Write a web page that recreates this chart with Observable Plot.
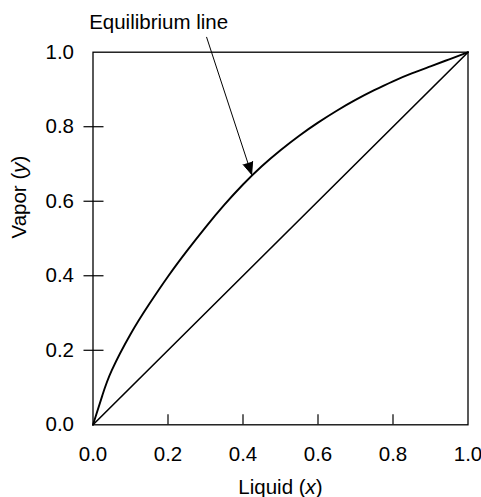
<!DOCTYPE html>
<html><head><meta charset="utf-8">
<script src="https://cdn.jsdelivr.net/npm/d3@7"></script>
<script src="https://cdn.jsdelivr.net/npm/@observablehq/plot@0.6"></script>
<style>body{margin:0;background:#fff}</style>
</head><body><div id="chart"></div>
<script>
// Equilibrium curve values
const liquidX = [0, 0.025, 0.05, 0.1, 0.15, 0.2, 0.25, 0.3, 0.35, 0.4, 0.45, 0.5, 0.55, 0.6, 0.65, 0.7, 0.75, 0.8, 0.85, 0.9, 0.95, 1.0];
const vaporY  = [0, 0.079, 0.146, 0.243, 0.324, 0.398, 0.466, 0.530, 0.590, 0.645, 0.694, 0.737, 0.776, 0.811, 0.843, 0.872, 0.898, 0.922, 0.943, 0.962, 0.981, 1.0];
// 45° diagonal (y = x)
const diagonalX = [0, 1];
const diagonalY = [0, 1];
// ticks
const tickLabels = [0, 0.2, 0.4, 0.6, 0.8, 1.0];
const innerTicks = [0.2, 0.4, 0.6, 0.8];
// texts
const xLabel = "Liquid (x)";
const yLabel = "Vapor (y)";
const annotationLabel = "Equilibrium line";
const annotationPos = [0.175, 1.08];
const arrowFrom = [0.303, 1.04];
const arrowTo = [0.423, 0.672];

const curve = liquidX.map((x, i) => ({x, y: vaporY[i]}));
const diag = diagonalX.map((x, i) => ({x, y: diagonalY[i]}));
const fmt = d3.format(".1f");
const FS = 20.5;

const svg = Plot.plot({
  width: 481,
  height: 497,
  marginLeft: 92.5,
  marginRight: 13.5,
  marginTop: 51.7,
  marginBottom: 72.7,
  style: {fontFamily: "'Liberation Sans', Arial, Helvetica, sans-serif", fontSize: FS + "px", background: "white", color: "black", overflow: "visible"},
  x: {domain: [0, 1], label: null},
  y: {domain: [0, 1], label: null},
  marks: [
    Plot.frame({stroke: "black", strokeWidth: 1.3}),
    // y ticks crossing the left edge
    Plot.axisY(innerTicks, {tickSize: 20, dx: 11, fill: "none", strokeWidth: 1.2, label: null}),
    Plot.axisY(tickLabels, {tickSize: 0, tickPadding: 19, fontSize: FS, tickFormat: fmt, label: null}),
    // x ticks inside the bottom edge
    Plot.axisX(innerTicks, {tickSize: 10, dy: -10, fill: "none", strokeWidth: 1.2, label: null}),
    Plot.axisX(tickLabels, {tickSize: 0, tickPadding: 22, fontSize: FS, tickFormat: fmt, label: null}),
    Plot.line(diag, {x: "x", y: "y", stroke: "black", strokeWidth: 1.6}),
    Plot.line(curve, {x: "x", y: "y", stroke: "black", strokeWidth: 1.9, curve: "natural"}),
    Plot.text([xLabel], {text: d => d, frameAnchor: "bottom", dy: 63, fontSize: FS, lineAnchor: "middle", fill: "black"}),
    Plot.text([yLabel], {text: d => d, frameAnchor: "left", rotate: -90, dx: -73.5, fontSize: FS, lineAnchor: "middle", fill: "black"}),
    Plot.text([annotationLabel], {text: d => d, x: () => annotationPos[0], y: () => annotationPos[1], fontSize: FS, lineAnchor: "middle", fill: "black"}),
    Plot.arrow([0], {x1: () => arrowFrom[0], y1: () => arrowFrom[1], x2: () => arrowTo[0], y2: () => arrowTo[1], stroke: "black", fill: "black", strokeWidth: 1, headLength: 19.5, headAngle: 45})
  ]
});

// italic variable names in axis labels
d3.select(svg).selectAll("text").each(function() {
  const t = this.textContent;
  const m = t.match(/^(.*\()([xy])(\))$/);
  if (m) {
    const sel = d3.select(this);
    sel.text(null);
    sel.append("tspan").text(m[1]);
    sel.append("tspan").attr("font-style", "italic").text(m[2]);
    sel.append("tspan").text(m[3]);
  }
});

document.getElementById("chart").appendChild(svg);
</script>
</body></html>
